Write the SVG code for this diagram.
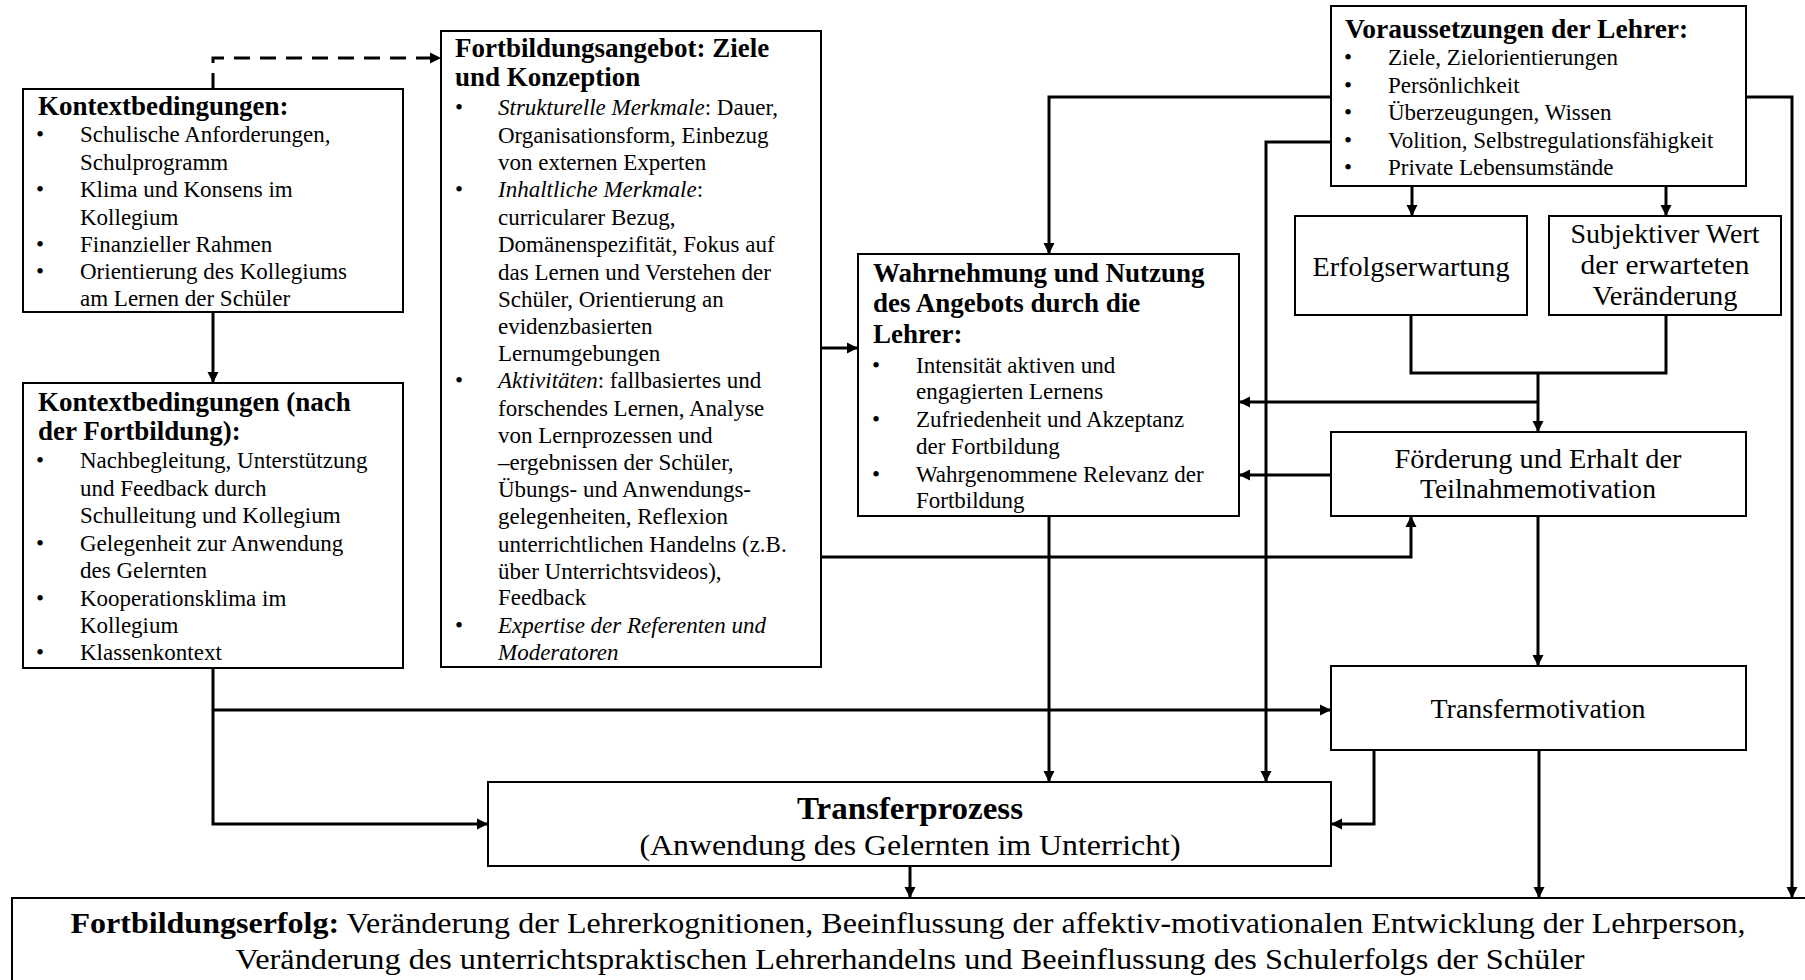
<svg xmlns="http://www.w3.org/2000/svg" width="1805" height="980" viewBox="0 0 1805 980">
<style>
.box{fill:#fff;stroke:#000;stroke-width:2}
.t{font-family:"Liberation Serif","Times New Roman",serif;font-size:23px;fill:#000}
.h{font-weight:bold;font-size:27px}
.c{text-anchor:middle;font-size:27.5px}
.i{font-style:italic}
.conn{fill:none;stroke:#000;stroke-width:3}
.dash{stroke-dasharray:16 10}
</style>
<defs>
<marker id="arr" markerUnits="userSpaceOnUse" markerWidth="12" markerHeight="12" refX="11" refY="6" orient="auto">
<path d="M0,0.5 L11,6 L0,11.5 z" fill="#000"/>
</marker>
</defs>
<rect width="1805" height="980" fill="#fff"/>

<g id="connectors">
<path class="conn dash" d="M213,89 V58 H441" marker-end="url(#arr)"/>
<path class="conn" d="M213,312 V383" marker-end="url(#arr)"/>
<path class="conn" d="M213,668 V824 H488" marker-end="url(#arr)"/>
<path class="conn" d="M213,710 H1331" marker-end="url(#arr)"/>
<path class="conn" d="M821,348 H858" marker-end="url(#arr)"/>
<path class="conn" d="M821,557 H1411 V516" marker-end="url(#arr)"/>
<path class="conn" d="M1331,97 H1049 V254" marker-end="url(#arr)"/>
<path class="conn" d="M1331,142 H1266 V782" marker-end="url(#arr)"/>
<path class="conn" d="M1746,97 H1792 V898" marker-end="url(#arr)"/>
<path class="conn" d="M1412,186 V216" marker-end="url(#arr)"/>
<path class="conn" d="M1666,186 V216" marker-end="url(#arr)"/>
<path class="conn" d="M1411,315 V373 H1666 V315"/>
<path class="conn" d="M1538,373 V432" marker-end="url(#arr)"/>
<path class="conn" d="M1538,402 H1239" marker-end="url(#arr)"/>
<path class="conn" d="M1331,475 H1239" marker-end="url(#arr)"/>
<path class="conn" d="M1538,516 V666" marker-end="url(#arr)"/>
<path class="conn" d="M1049,516 V782" marker-end="url(#arr)"/>
<path class="conn" d="M1374,750 V824 H1331" marker-end="url(#arr)"/>
<path class="conn" d="M1539,750 V898" marker-end="url(#arr)"/>
<path class="conn" d="M910,866 V898" marker-end="url(#arr)"/>
</g>

<g id="kontext1">
<rect class="box" x="23" y="89" width="380" height="223"/>
<text class="t h" x="38" y="115">Kontextbedingungen:</text>
<text class="t" x="36" y="142">•</text><text class="t" x="80" y="142">Schulische Anforderungen,</text>
<text class="t" x="80" y="170">Schulprogramm</text>
<text class="t" x="36" y="197">•</text><text class="t" x="80" y="197">Klima und Konsens im</text>
<text class="t" x="80" y="225">Kollegium</text>
<text class="t" x="36" y="252">•</text><text class="t" x="80" y="252">Finanzieller Rahmen</text>
<text class="t" x="36" y="279">•</text><text class="t" x="80" y="279">Orientierung des Kollegiums</text>
<text class="t" x="80" y="306">am Lernen der Schüler</text>
</g>

<g id="kontext2">
<rect class="box" x="23" y="383" width="380" height="285"/>
<text class="t h" x="38" y="411">Kontextbedingungen (nach</text>
<text class="t h" x="38" y="440">der Fortbildung):</text>
<text class="t" x="36" y="468">•</text><text class="t" x="80" y="468">Nachbegleitung, Unterstützung</text>
<text class="t" x="80" y="496">und Feedback durch</text>
<text class="t" x="80" y="523">Schulleitung und Kollegium</text>
<text class="t" x="36" y="551">•</text><text class="t" x="80" y="551">Gelegenheit zur Anwendung</text>
<text class="t" x="80" y="578">des Gelernten</text>
<text class="t" x="36" y="606">•</text><text class="t" x="80" y="606">Kooperationsklima im</text>
<text class="t" x="80" y="633">Kollegium</text>
<text class="t" x="36" y="660">•</text><text class="t" x="80" y="660">Klassenkontext</text>
</g>

<g id="angebot">
<rect class="box" x="441" y="31" width="380" height="636"/>
<text class="t h" x="455" y="57">Fortbildungsangebot: Ziele</text>
<text class="t h" x="455" y="86">und Konzeption</text>
<text class="t" x="455" y="115">•</text><text class="t" x="498" y="115"><tspan class="i">Strukturelle Merkmale</tspan>: Dauer,</text>
<text class="t" x="498" y="143">Organisationsform, Einbezug</text>
<text class="t" x="498" y="170">von externen Experten</text>
<text class="t" x="455" y="197">•</text><text class="t" x="498" y="197"><tspan class="i">Inhaltliche Merkmale</tspan>:</text>
<text class="t" x="498" y="225">curricularer Bezug,</text>
<text class="t" x="498" y="252">Domänenspezifität, Fokus auf</text>
<text class="t" x="498" y="280">das Lernen und Verstehen der</text>
<text class="t" x="498" y="307">Schüler, Orientierung an</text>
<text class="t" x="498" y="334">evidenzbasierten</text>
<text class="t" x="498" y="361">Lernumgebungen</text>
<text class="t" x="455" y="388">•</text><text class="t" x="498" y="388"><tspan class="i">Aktivitäten</tspan>: fallbasiertes und</text>
<text class="t" x="498" y="416">forschendes Lernen, Analyse</text>
<text class="t" x="498" y="443">von Lernprozessen und</text>
<text class="t" x="498" y="470">–ergebnissen der Schüler,</text>
<text class="t" x="498" y="497">Übungs- und Anwendungs-</text>
<text class="t" x="498" y="524">gelegenheiten, Reflexion</text>
<text class="t" x="498" y="552">unterrichtlichen Handelns (z.B.</text>
<text class="t" x="498" y="579">über Unterrichtsvideos),</text>
<text class="t" x="498" y="605">Feedback</text>
<text class="t" x="455" y="633">•</text><text class="t i" x="498" y="633">Expertise der Referenten und</text>
<text class="t i" x="498" y="660">Moderatoren</text>
</g>

<g id="wahrnehmung">
<rect class="box" x="858" y="254" width="381" height="262"/>
<text class="t h" x="873" y="282">Wahrnehmung und Nutzung</text>
<text class="t h" x="873" y="312">des Angebots durch die</text>
<text class="t h" x="873" y="343">Lehrer:</text>
<text class="t" x="872" y="373">•</text><text class="t" x="916" y="373">Intensität aktiven und</text>
<text class="t" x="916" y="399">engagierten Lernens</text>
<text class="t" x="872" y="427">•</text><text class="t" x="916" y="427">Zufriedenheit und Akzeptanz</text>
<text class="t" x="916" y="454">der Fortbildung</text>
<text class="t" x="872" y="482">•</text><text class="t" x="916" y="482">Wahrgenommene Relevanz der</text>
<text class="t" x="916" y="508">Fortbildung</text>
</g>

<g id="voraussetzungen">
<rect class="box" x="1331" y="6" width="415" height="180"/>
<text class="t h" x="1345" y="38" style="font-size:27.5px">Voraussetzungen der Lehrer:</text>
<text class="t" x="1344" y="65">•</text><text class="t" x="1388" y="65">Ziele, Zielorientierungen</text>
<text class="t" x="1344" y="93">•</text><text class="t" x="1388" y="93">Persönlichkeit</text>
<text class="t" x="1344" y="120">•</text><text class="t" x="1388" y="120">Überzeugungen, Wissen</text>
<text class="t" x="1344" y="148">•</text><text class="t" x="1388" y="148">Volition, Selbstregulationsfähigkeit</text>
<text class="t" x="1344" y="175">•</text><text class="t" x="1388" y="175">Private Lebensumstände</text>
</g>

<g id="erfolgserwartung">
<rect class="box" x="1295" y="216" width="232" height="99"/>
<text class="t c" x="1411" y="276" textLength="197" lengthAdjust="spacingAndGlyphs">Erfolgserwartung</text>
</g>

<g id="subjektiver-wert">
<rect class="box" x="1549" y="216" width="232" height="99"/>
<text class="t c" x="1665" y="243" textLength="189" lengthAdjust="spacingAndGlyphs">Subjektiver Wert</text>
<text class="t c" x="1665" y="274" textLength="169" lengthAdjust="spacingAndGlyphs">der erwarteten</text>
<text class="t c" x="1665" y="305" textLength="145" lengthAdjust="spacingAndGlyphs">Veränderung</text>
</g>

<g id="foerderung">
<rect class="box" x="1331" y="432" width="415" height="84"/>
<text class="t c" x="1538" y="468" textLength="287" lengthAdjust="spacingAndGlyphs">Förderung und Erhalt der</text>
<text class="t c" x="1538" y="498" textLength="236" lengthAdjust="spacingAndGlyphs">Teilnahmemotivation</text>
</g>

<g id="transfermotivation">
<rect class="box" x="1331" y="666" width="415" height="84"/>
<text class="t c" x="1538" y="718" textLength="215" lengthAdjust="spacingAndGlyphs">Transfermotivation</text>
</g>

<g id="transferprozess">
<rect class="box" x="488" y="782" width="843" height="84"/>
<text class="t" x="910" y="819" style="text-anchor:middle;font-weight:bold;font-size:31px" textLength="226" lengthAdjust="spacingAndGlyphs">Transferprozess</text>
<text class="t" x="910" y="855" style="text-anchor:middle;font-size:30px" textLength="541" lengthAdjust="spacingAndGlyphs">(Anwendung des Gelernten im Unterricht)</text>
</g>

<g id="fortbildungserfolg">
<rect class="box" x="12" y="898" width="1810" height="100"/>
<text class="t" x="908" y="933" style="text-anchor:middle;font-size:30px" textLength="1675" lengthAdjust="spacingAndGlyphs"><tspan font-weight="bold">Fortbildungserfolg:</tspan> Veränderung der Lehrerkognitionen, Beeinflussung der affektiv-motivationalen Entwicklung der Lehrperson,</text>
<text class="t" x="910" y="969" style="text-anchor:middle;font-size:30px" textLength="1349" lengthAdjust="spacingAndGlyphs">Veränderung des unterrichtspraktischen Lehrerhandelns und Beeinflussung des Schulerfolgs der Schüler</text>
</g>
</svg>
